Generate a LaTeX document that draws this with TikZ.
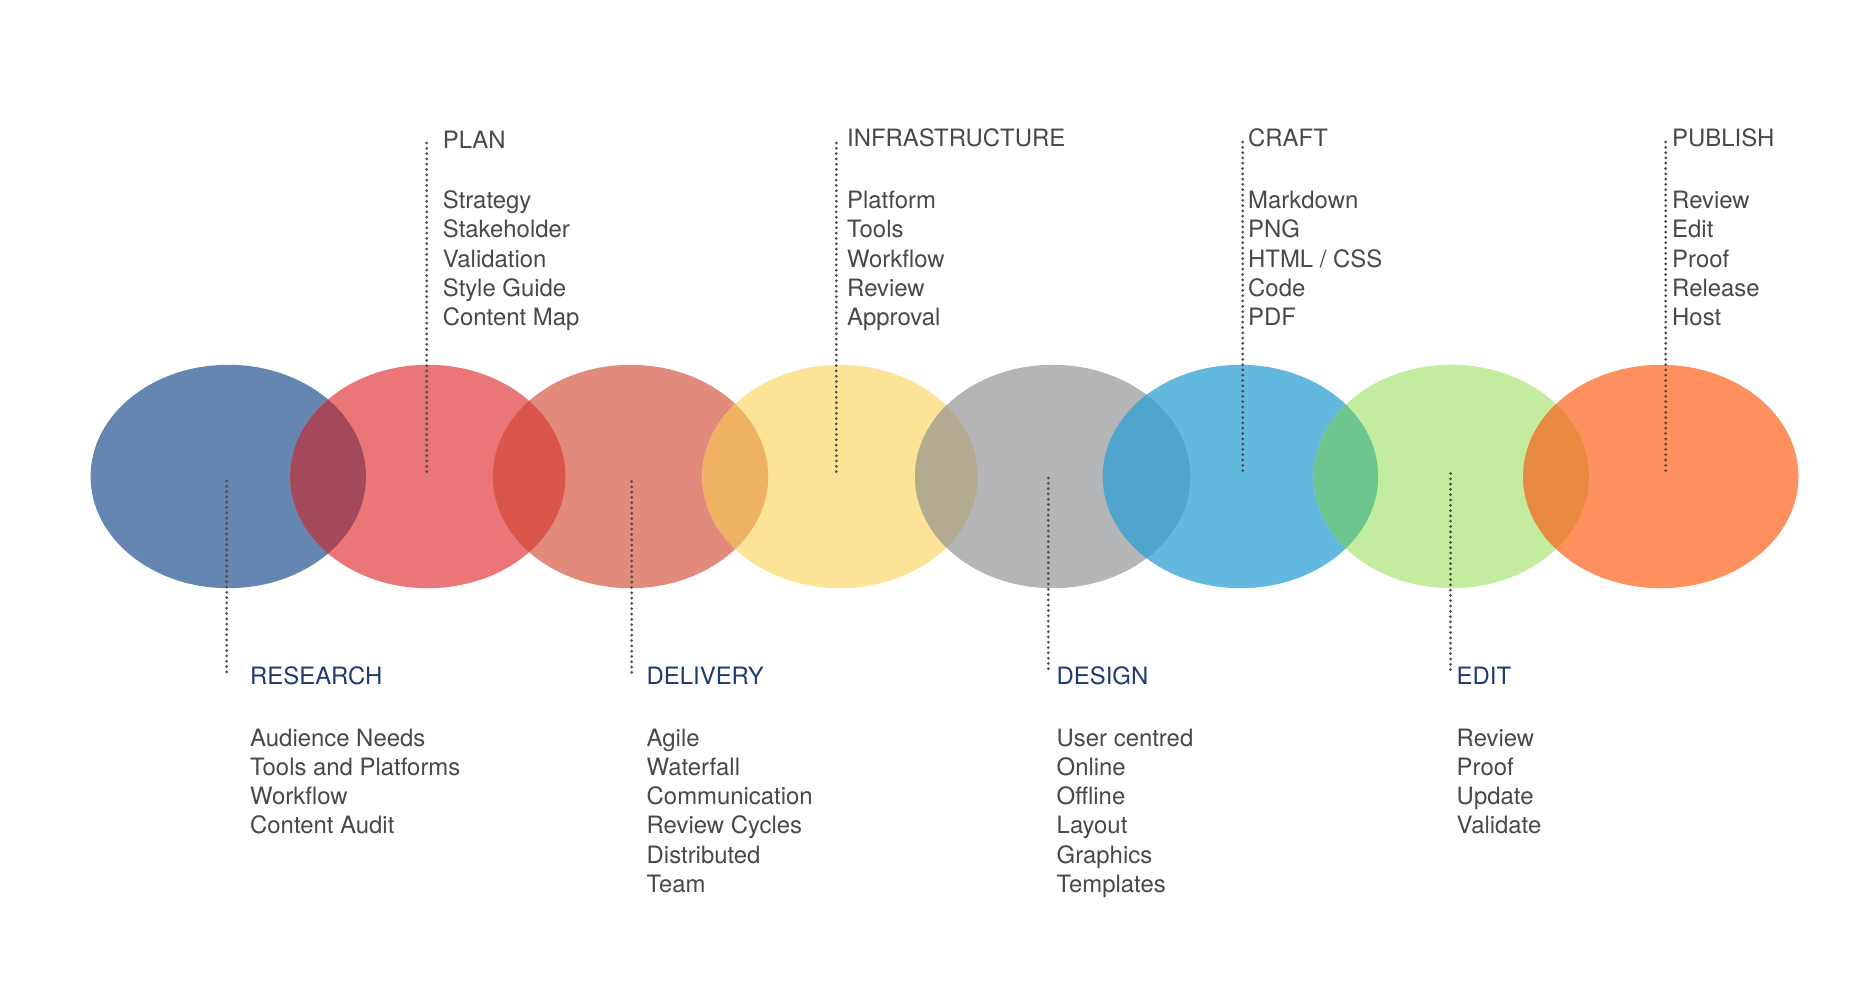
\documentclass[tikz,border=0pt]{standalone}
\usepackage{fontspec}
\setmainfont{TeX Gyre Heros}
\definecolor{txtgray}{HTML}{484848}
\definecolor{headblue}{HTML}{1E3A6E}
\definecolor{dotgray}{HTML}{4A4A4A}
\definecolor{cA}{HTML}{6486B0}
\definecolor{cB}{HTML}{EA7677}
\definecolor{cC}{HTML}{E28B7D}
\definecolor{cD}{HTML}{FCE397}
\definecolor{cE}{HTML}{B4B5B7}
\definecolor{cF}{HTML}{63B8E0}
\definecolor{cG}{HTML}{C4EC9E}
\definecolor{cH}{HTML}{FE9060}
\definecolor{oAB}{HTML}{A4495B}
\definecolor{oBC}{HTML}{DA554A}
\definecolor{oCD}{HTML}{EFB262}
\definecolor{oDE}{HTML}{B2AB90}
\definecolor{oEF}{HTML}{50A5CD}
\definecolor{oFG}{HTML}{6EC68F}
\definecolor{oGH}{HTML}{E98A42}
\tikzset{
  txt/.style={anchor=base west, inner sep=0pt, font=\fontsize{23.9}{29}\selectfont, text=txtgray},
  headgray/.style={txt},
  headblu/.style={txt, text=headblue},
  dotline/.style={draw=dotgray, line width=3pt, line cap=round, dash pattern=on 0pt off 5.3pt},
}
\begin{document}
\begin{tikzpicture}[x=1pt,y=-1pt]
\useasboundingbox (0,0) rectangle (1876,985);
\def\rx{137.7}\def\ry{111.7}
% ellipse centres
\coordinate (cA) at (228.3,476.5);
\coordinate (cB) at (427.8,476.5);
\coordinate (cC) at (630.5,476.5);
\coordinate (cD) at (840.0,476.5);
\coordinate (cE) at (1052.7,476.5);
\coordinate (cF) at (1240.5,476.5);
\coordinate (cG) at (1451.3,476.5);
\coordinate (cH) at (1660.8,476.5);
\foreach \c in {A,B,C,D,E,F,G,H}{
  \fill[c\c] (c\c) ellipse [x radius=\rx, y radius=\ry];
}
\foreach \a/\b in {A/B,B/C,C/D,D/E,E/F,F/G,G/H}{
  \begin{scope}
    \clip (c\a) ellipse [x radius=\rx, y radius=\ry];
    \fill[o\a\b] (c\b) ellipse [x radius=\rx, y radius=\ry];
  \end{scope}
}
% dotted leader end points
\coordinate (d1s) at (226.7,481);   \coordinate (d1e) at (226.7,673);
\coordinate (d2s) at (426.7,143);   \coordinate (d2e) at (426.7,475);
\coordinate (d3s) at (631.7,481.5); \coordinate (d3e) at (631.7,673);
\coordinate (d4s) at (836.3,143);   \coordinate (d4e) at (836.3,475);
\coordinate (d5s) at (1048.3,478);  \coordinate (d5e) at (1048.3,672);
\coordinate (d6s) at (1242.7,142);  \coordinate (d6e) at (1242.7,474);
\coordinate (d7s) at (1450.5,473.5);\coordinate (d7e) at (1450.5,672);
\coordinate (d8s) at (1665.7,142);  \coordinate (d8e) at (1665.7,474);
\foreach \i in {1,...,8}{
  \draw[dotline] (d\i s) -- (d\i e);
}
% bottom headers and items
\node[headblu] (research) at (250,684) {RESEARCH};
\foreach \t [count=\k] in {Audience Needs,Tools and Platforms,Workflow,Content Audit}{
  \node[txt] (research-\k) at (250,{746+29.3*(\k-1)}) {\t};
}
\node[headblu] (delivery) at (646.5,684) {DELIVERY};
\foreach \t [count=\k] in {Agile,Waterfall,Communication,Review Cycles,Distributed,Team}{
  \node[txt] (delivery-\k) at (646.5,{746+29.3*(\k-1)}) {\t};
}
\node[headblu] (design) at (1056.5,684) {DESIGN};
\foreach \t [count=\k] in {User centred,Online,Offline,Layout,Graphics,Templates}{
  \node[txt] (design-\k) at (1056.5,{746+29.3*(\k-1)}) {\t};
}
\node[headblu] (edit) at (1456.5,684) {EDIT};
\foreach \t [count=\k] in {Review,Proof,Update,Validate}{
  \node[txt] (edit-\k) at (1456.5,{746+29.3*(\k-1)}) {\t};
}
% top headers and items
\node[headgray] (plan) at (442.7,148) {PLAN};
\foreach \t [count=\k] in {Strategy,Stakeholder,Validation,Style Guide,Content Map}{
  \node[txt] (plan-\k) at (442.7,{208.5+29.3*(\k-1)}) {\t};
}
\node[headgray] (infra) at (847,146.5) {INFRASTRUCTURE};
\foreach \t [count=\k] in {Platform,Tools,Workflow,Review,Approval}{
  \node[txt] (infra-\k) at (847,{208.5+29.3*(\k-1)}) {\t};
}
\node[headgray] (craft) at (1248,146.5) {CRAFT};
\foreach \t [count=\k] in {Markdown,PNG,HTML / CSS,Code,PDF}{
  \node[txt] (craft-\k) at (1248,{208.5+29.3*(\k-1)}) {\t};
}
\node[headgray] (publish) at (1672,146.5) {PUBLISH};
\foreach \t [count=\k] in {Review,Edit,Proof,Release,Host}{
  \node[txt] (publish-\k) at (1672,{208.5+29.3*(\k-1)}) {\t};
}
\end{tikzpicture}
\end{document}
